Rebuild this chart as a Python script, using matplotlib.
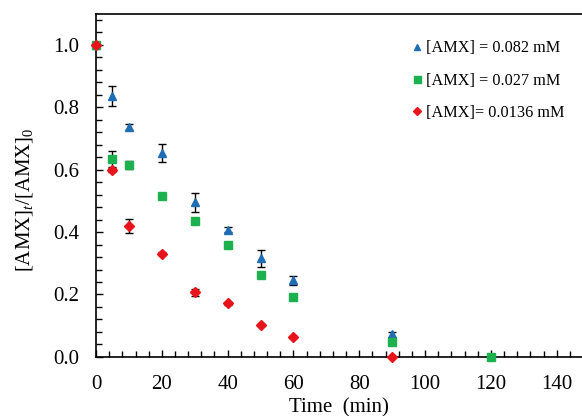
import matplotlib
matplotlib.use("Agg")
import matplotlib.pyplot as plt
from matplotlib.ticker import MultipleLocator

plt.rcParams['font.family'] = ['Liberation Serif', 'DejaVu Serif']
plt.rcParams['mathtext.fontset'] = 'custom'
plt.rcParams['mathtext.rm'] = 'Liberation Serif'
plt.rcParams['mathtext.it'] = 'Liberation Serif:italic'

# Data
t_blue = [0, 5, 10, 20, 30, 40, 50, 60, 90]
y_blue = [1.0, 0.837, 0.736, 0.653, 0.495, 0.407, 0.316, 0.245, 0.073]
e_blue = [0.0, 0.032, 0.010, 0.030, 0.030, 0.008, 0.028, 0.015, 0.008]

t_green = [0, 5, 10, 20, 30, 40, 50, 60, 90, 120]
y_green = [1.0, 0.634, 0.615, 0.517, 0.436, 0.358, 0.264, 0.193, 0.047, 0.0]
e_green = [0.0, 0.027, 0.012, 0.004, 0.006, 0.004, 0.004, 0.004, 0.004, 0.0]

t_red = [0, 5, 10, 20, 30, 40, 50, 60, 90]
y_red = [1.0, 0.599, 0.42, 0.331, 0.207, 0.172, 0.101, 0.064, 0.0]
e_red = [0.0, 0.006, 0.023, 0.006, 0.011, 0.005, 0.003, 0.003, 0.0]

labels = ['[AMX] = 0.082 mM', '[AMX] = 0.027 mM', '[AMX]= 0.0136 mM']

fig = plt.figure(figsize=(5.82, 4.16), dpi=100)
ax = fig.add_axes([0.165, 0.142, 0.835, 0.8255])

kw = dict(ls='none', ecolor='black', elinewidth=1.0, capsize=3, capthick=1.0, clip_on=False)
ax.errorbar(t_blue, y_blue, yerr=e_blue, marker='^', ms=6, color='#1f6db5', label=labels[0], zorder=3, **kw)
ax.errorbar(t_green, y_green, yerr=e_green, marker='s', ms=6.3, color='#1db04f', label=labels[1], zorder=4, **kw)
ax.errorbar(t_red, y_red, yerr=e_red, marker='D', ms=5.0, color='#e8141b', label=labels[2], zorder=5, **kw)

ax.set_xlim(0, 147.7)
ax.set_ylim(0, 1.1)
ax.xaxis.set_major_locator(MultipleLocator(20))
ax.xaxis.set_minor_locator(MultipleLocator(4))
ax.yaxis.set_major_locator(MultipleLocator(0.2))
ax.yaxis.set_minor_locator(MultipleLocator(0.04))
ax.yaxis.set_major_formatter(plt.FuncFormatter(lambda v, p: f"{v:.1f}"))
ax.tick_params(which='both', direction='in', labelsize=15, width=1.0, color='black')
ax.tick_params(which='major', length=5)
ax.tick_params(which='minor', length=4)
ax.tick_params(axis='x', pad=13)
ax.tick_params(axis='y', pad=12)
ax.spines['right'].set_visible(False)
for s in ['left', 'bottom', 'top']:
    ax.spines[s].set_linewidth(1.2)

ax.set_xlabel('Time  (min)', fontsize=15, labelpad=3)
ax.set_ylabel('[AMX]$_t$/[AMX]$_0$', fontsize=15)
ax.yaxis.set_label_coords(-0.125, 0.457)

handles, labs = ax.get_legend_handles_labels()
hs = [h[0] for h in handles]
ax.legend(hs, labs, loc='upper right', bbox_to_anchor=(0.988, 0.955), frameon=False,
          fontsize=11.7, handlelength=0.5, handletextpad=0.3, labelspacing=1.0,
          markerscale=0.8, borderaxespad=0.3)

fig.savefig('out.png', dpi=100)
